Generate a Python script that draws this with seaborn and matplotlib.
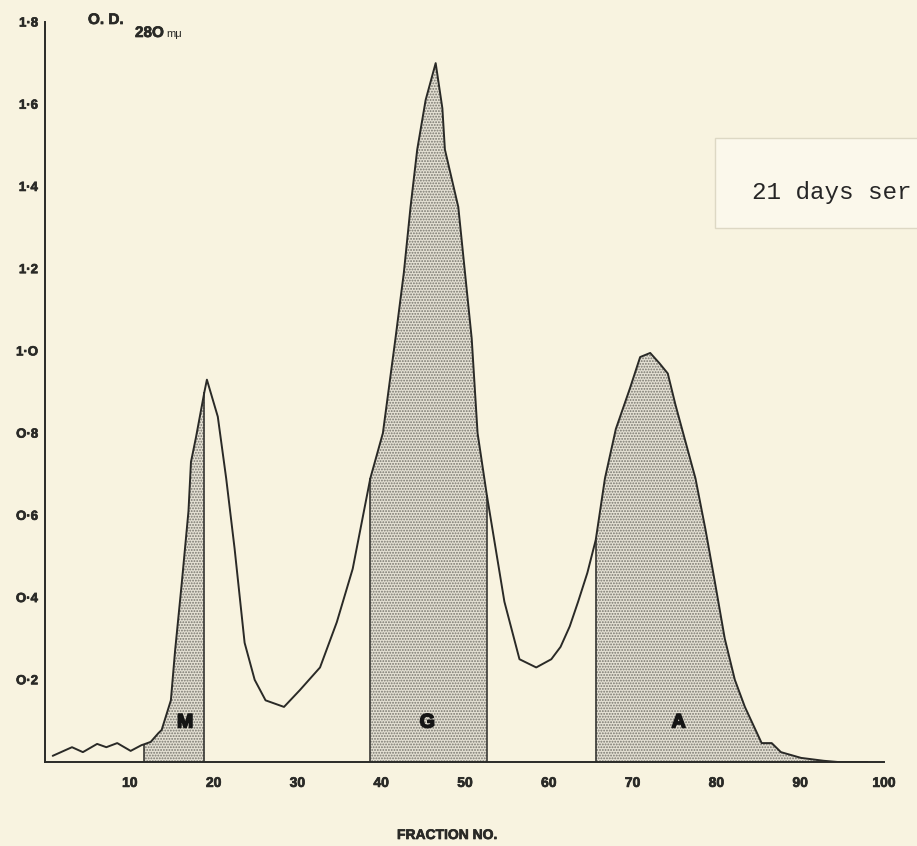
import matplotlib
matplotlib.use("Agg")
import matplotlib.pyplot as plt
import matplotlib.patches as mpatches
import matplotlib.patheffects as pe
import numpy as np
import seaborn as sns

# elution profile (fraction no. vs O.D. 280 mu)
fraction = [0.8, 3.1, 4.4, 6.1, 7.2, 8.5, 10.1, 11.4, 11.7, 12.5, 13.4, 13.8,
            14.9, 15.4, 16.2, 17.0, 17.3, 17.9, 18.9, 19.2, 20.5, 21.5, 22.5,
            23.7, 24.9, 26.2, 28.4, 30.3, 32.7, 34.7, 36.6, 38.7, 40.2, 41.7,
            42.7, 43.5, 44.3, 45.3, 46.5, 47.3, 47.6, 49.2, 50.0, 50.8, 51.5,
            52.6, 54.7, 56.5, 58.5, 60.3, 61.4, 62.5, 63.5, 64.6, 65.6, 66.7,
            68.0, 69.7, 70.9, 72.1, 73.2, 74.2, 75.1, 76.3, 77.5, 78.7, 79.8,
            81.0, 82.2, 83.4, 85.4, 86.6, 87.7, 90.1, 92.8, 94.5, 98.0]
od = [0.015, 0.036, 0.024, 0.044, 0.036, 0.046, 0.027, 0.041, 0.043, 0.049,
      0.07, 0.078, 0.15, 0.27, 0.435, 0.61, 0.73, 0.79, 0.90, 0.93, 0.84,
      0.69, 0.52, 0.29, 0.20, 0.15, 0.134, 0.175, 0.23, 0.34, 0.47, 0.69,
      0.80, 1.03, 1.19, 1.35, 1.49, 1.61, 1.70, 1.59, 1.49, 1.35, 1.19, 1.03,
      0.80, 0.65, 0.39, 0.25, 0.23, 0.25, 0.28, 0.33, 0.39, 0.46, 0.54, 0.69,
      0.81, 0.91, 0.985, 0.995, 0.97, 0.945, 0.87, 0.78, 0.69, 0.565, 0.44,
      0.30, 0.20, 0.134, 0.046, 0.046, 0.024, 0.01, 0.003, 0.0, 0.0]

# shaded immunoglobulin fractions
peak_names = ["M", "G", "A"]
peak_starts = [11.7, 38.7, 65.6]
peak_ends = [18.9, 52.6, 98.0]
peak_label_x = [16.6, 45.5, 75.5]

xticks = [10, 20, 30, 40, 50, 60, 70, 80, 90, 100]
yticks = [0.2, 0.4, 0.6, 0.8, 1.0, 1.2, 1.4, 1.6, 1.8]
ylabels = ["O·2", "O·4", "O·6", "O·8", "1·O", "1·2", "1·4", "1·6", "1·8"]

paper = "#f8f3e0"
ink = "#2a2a27"

sns.set_theme(style="white", rc={"figure.facecolor": paper, "axes.facecolor": paper,
                                 "hatch.linewidth": 0.9, "hatch.color": "#77756d"})
plt.rcParams["font.family"] = ["Liberation Sans", "DejaVu Sans"]

thick = [pe.withStroke(linewidth=0.5, foreground=ink)]
heavy = [pe.withStroke(linewidth=1.2, foreground="#151515")]

fig = plt.figure(figsize=(9.17, 8.46), dpi=100)
ax = fig.add_axes([45 / 917, 1 - 762 / 846, (884 - 45) / 917, 740 / 846])

x = np.array(fraction)
y = np.array(od)

for name, a, b, lx in zip(peak_names, peak_starts, peak_ends, peak_label_x):
    mask = (x >= a) & (x <= b)
    ax.fill_between(x[mask], 0, y[mask], facecolor="#e4e0d3", edgecolor="#77756d",
                    hatch="......", linewidth=0)
    ax.vlines([a, b], 0, [y[x == a][0], y[x == b][0]], color=ink, linewidth=1.1)
    ax.text(lx, 0.095, name, ha="center", va="center", fontsize=14,
            fontweight="bold", color="#151515", path_effects=heavy)

sns.lineplot(x=fraction, y=od, color=ink, linewidth=1.4, ax=ax, sort=False)

ax.set_xlim(-0.12, 98.8)
ax.set_ylim(0, 1.8)
ax.set_xticks(xticks)
ax.set_xticklabels([str(t) for t in xticks], fontsize=10, fontweight="bold", color=ink)
ax.set_yticks(yticks)
ax.set_yticklabels(ylabels, fontsize=9.5, fontweight="bold", color=ink)
for lab in ax.get_xticklabels() + ax.get_yticklabels():
    lab.set_path_effects(thick)
ax.tick_params(axis="x", length=0, pad=10)
ax.tick_params(axis="y", length=0, pad=5)
for side in ["top", "right"]:
    ax.spines[side].set_visible(False)
for side in ["left", "bottom"]:
    ax.spines[side].set_color(ink)
    ax.spines[side].set_linewidth(1.4)
ax.grid(False)

ax.set_xlabel("")
ax.set_ylabel("")
fig.text(447 / 917, 1 - 835 / 846, "FRACTION NO.", ha="center", va="center",
         fontsize=10, fontweight="bold", color=ink, path_effects=thick)
fig.text(88 / 917, 1 - 20 / 846, "O. D.", ha="left", va="center",
         fontsize=11, fontweight="bold", color=ink, path_effects=thick)
fig.text(135 / 917, 1 - 33 / 846, "28O", ha="left", va="center",
         fontsize=11, fontweight="bold", color=ink, path_effects=thick)
fig.text(166 / 917, 1 - 34 / 846, "mμ", ha="left", va="center",
         fontsize=8, color=ink)

# pasted typewritten label, cut off by the page edge
box = mpatches.Rectangle((715 / 917, 1 - 228 / 846), 0.3, 90 / 846,
                         transform=fig.transFigure, facecolor="#fbf8eb",
                         edgecolor="#ddd8c4", linewidth=1.0)
fig.patches.append(box)
fig.text(752 / 917, 1 - 192 / 846, "21 days ser", ha="left", va="center",
         fontsize=17.5, family="Liberation Mono", color="#262626")

fig.savefig("out.png", dpi=100, facecolor=paper)
